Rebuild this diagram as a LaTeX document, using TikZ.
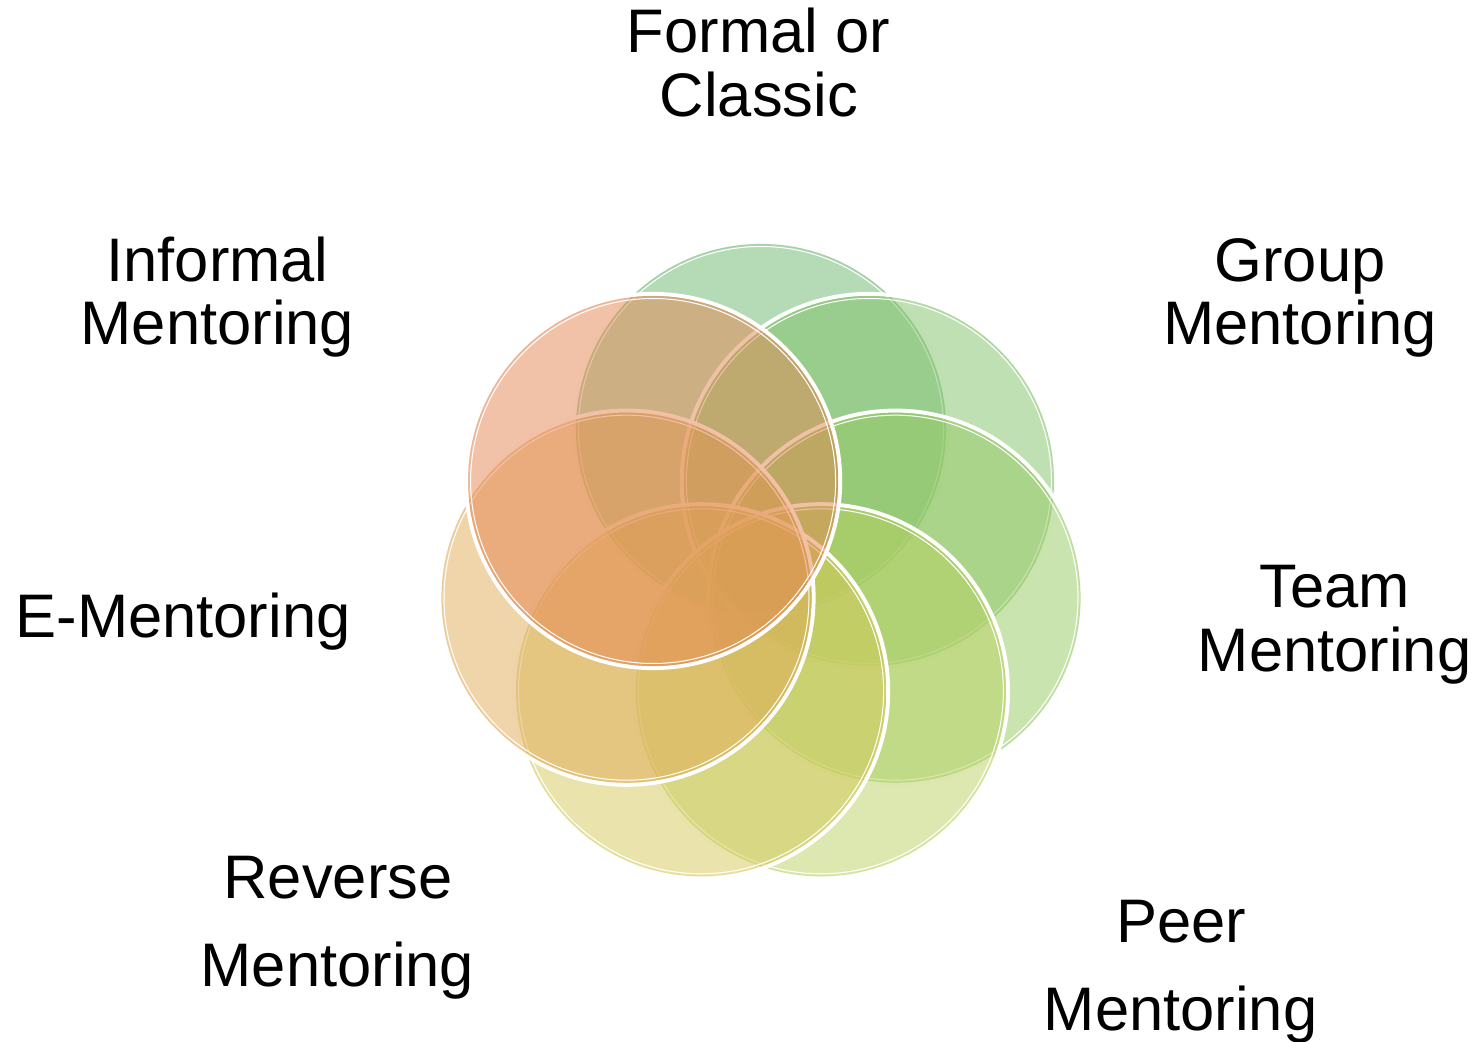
\documentclass[tikz,border=0pt]{standalone}
\usepackage{fontspec}
\setmainfont{Liberation Sans}
\begin{document}
\begin{tikzpicture}[x=0.5pt,y=-0.5pt,
  lbl/.style={anchor=base, inner sep=0pt, font=\fontsize{30.75}{32}\selectfont}]
\useasboundingbox (0,0) rectangle (1478,1042);

% ring colours, from green to orange
\definecolor{cFormal}{RGB}{105,181,109}
\definecolor{cGroup}{RGB}{127,193,101}
\definecolor{cTeam}{RGB}{149,201,97}
\definecolor{cPeer}{RGB}{185,209,97}
\definecolor{cReverse}{RGB}{213,201,89}
\definecolor{cEment}{RGB}{225,169,85}
\definecolor{cInformal}{RGB}{229,133,81}

% centres of the seven circles, spaced evenly round the ring
\coordinate (formal)   at (761.0,429.0);
\coordinate (group)    at (868.9,481.0);
\coordinate (team)     at (895.5,597.7);
\coordinate (peer)     at (820.9,691.3);
\coordinate (reverse)  at (701.1,691.3);
\coordinate (ement)    at (626.5,597.7);
\coordinate (informal) at (653.1,481.0);

% translucent discs with a white rim, drawn in stacking order
\foreach \c/\col in {formal/cFormal, group/cGroup, team/cTeam, peer/cPeer,
                     reverse/cReverse, ement/cEment, informal/cInformal}{
  \fill[\col, fill opacity=0.5] (\c) circle (184);
  \draw[white, line width=2pt] (\c) circle (187.1);
  \draw[\col, line width=0.6pt, draw opacity=0.6] (\c) circle (184.5);
  \draw[white, line width=0.5pt] (\c) circle (182.5);
}

% labels
\node[lbl] (lFormalA)   at (758.5,53)  {Formal or};
\node[lbl] (lFormalB)   at (759,117)   {Classic};
\node[lbl] (lInformalA) at (217.5,282) {Informal};
\node[lbl] (lInformalB) at (217.5,345) {Mentoring};
\node[lbl] (lGroupA)    at (1300,282)  {Group};
\node[lbl] (lGroupB)    at (1300,345)  {Mentoring};
\node[lbl] (lTeamA)     at (1334.5,608) {Team};
\node[lbl] (lTeamB)     at (1334.5,671) {Mentoring};
\node[lbl] (lEment)     at (183,638)   {E-Mentoring};
\node[lbl] (lReverseA)  at (338,898)   {Reverse};
\node[lbl] (lReverseB)  at (337.5,986) {Mentoring};
\node[lbl] (lPeerA)     at (1181,942)  {Peer};
\node[lbl] (lPeerB)     at (1180.5,1030) {Mentoring};
\end{tikzpicture}
\end{document}
